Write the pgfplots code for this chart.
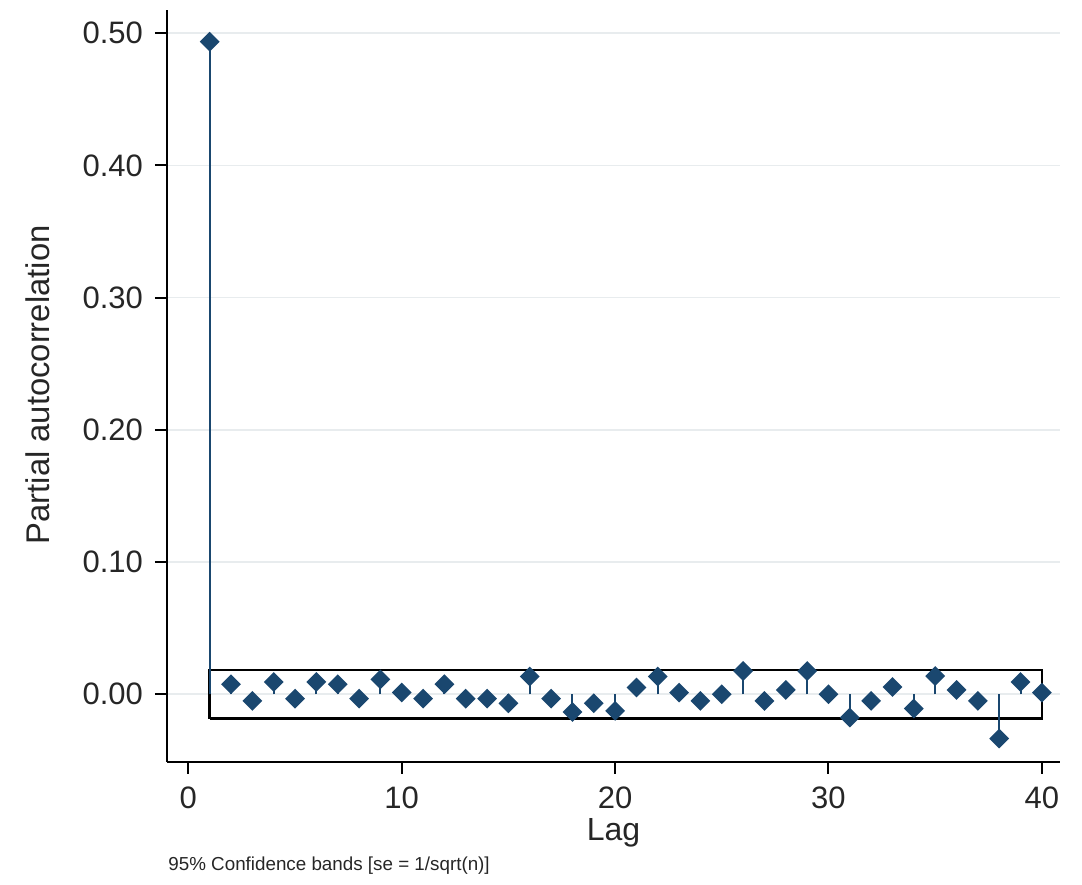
\documentclass[border=0pt]{standalone}
\usepackage{fontspec}
\setmainfont{Liberation Sans}
\usepackage{pgfplots}
\pgfplotsset{compat=1.18}
\definecolor{stnavy}{HTML}{1A476F}
\definecolor{gridc}{HTML}{E8ECEE}
\begin{document}
\begin{tikzpicture}
\path[use as bounding box] (-83.5pt,-61.15pt) rectangle (457.5pt,380.85pt);
\begin{axis}[
  scale only axis, width=446.5pt, height=375.85pt,
  xmin=-1, xmax=40.85, ymin=-0.051, ymax=0.5176,
  axis lines*=left,
  axis line style={line width=1pt, black},
  tick align=outside, major tick length=6pt,
  tick style={line width=1pt, black},
  xtick={0,10,20,30,40},
  ytick={0,0.1,0.2,0.3,0.4,0.5},
  ymajorgrids, grid style={gridc, line width=0.8pt},
  /pgf/number format/assume math mode=true,
  yticklabel style={/pgf/number format/.cd, fixed, fixed zerofill, precision=2, /tikz/.cd, xshift=-2.5pt},
  xticklabel style={yshift=-3pt},
  ticklabel style={font=\fontsize{15.5}{18}\selectfont, text=black!85},
  clip=false,
]
% 95% confidence band, se = 1/sqrt(n)
\addplot[black, line width=1.3pt, line join=miter, mark=none]
  coordinates {(1,-0.0185) (40,-0.0185) (40,0.0185) (1,0.0185) (1,-0.0185)};
% partial autocorrelations by lag
\addplot[ycomb, stnavy, line width=1pt,
  mark=square*, mark size=3pt, mark options={rotate=45, fill=stnavy, draw=stnavy}]
  table {
lag pac
1 0.4936
2 0.0076
3 -0.0050
4 0.0093
5 -0.0033
6 0.0093
7 0.0076
8 -0.0033
9 0.0113
10 0.0013
11 -0.0033
12 0.0076
13 -0.0033
14 -0.0033
15 -0.0068
16 0.0134
17 -0.0033
18 -0.0134
19 -0.0068
20 -0.0126
21 0.0051
22 0.0134
23 0.0013
24 -0.0050
25 0.0000
26 0.0176
27 -0.0050
28 0.0033
29 0.0176
30 0.0000
31 -0.0176
32 -0.0050
33 0.0055
34 -0.0108
35 0.0138
36 0.0033
37 -0.0050
38 -0.0335
39 0.0093
40 0.0013
};
\end{axis}
\node[anchor=base, font=\fontsize{16}{19}\selectfont, text=black!85] at (223.25pt,-39.4pt) {Lag};
\node[anchor=base, rotate=90, font=\fontsize{16.4}{19}\selectfont, text=black!85] at (-58.5pt,188.4pt) {Partial autocorrelation};
\node[anchor=base west, inner sep=0pt, font=\fontsize{9.4}{11}\selectfont, text=black!85] at (0.5pt,-54.6pt) {95\% Confidence bands [se = 1/sqrt(n)]};
\end{tikzpicture}
\end{document}
